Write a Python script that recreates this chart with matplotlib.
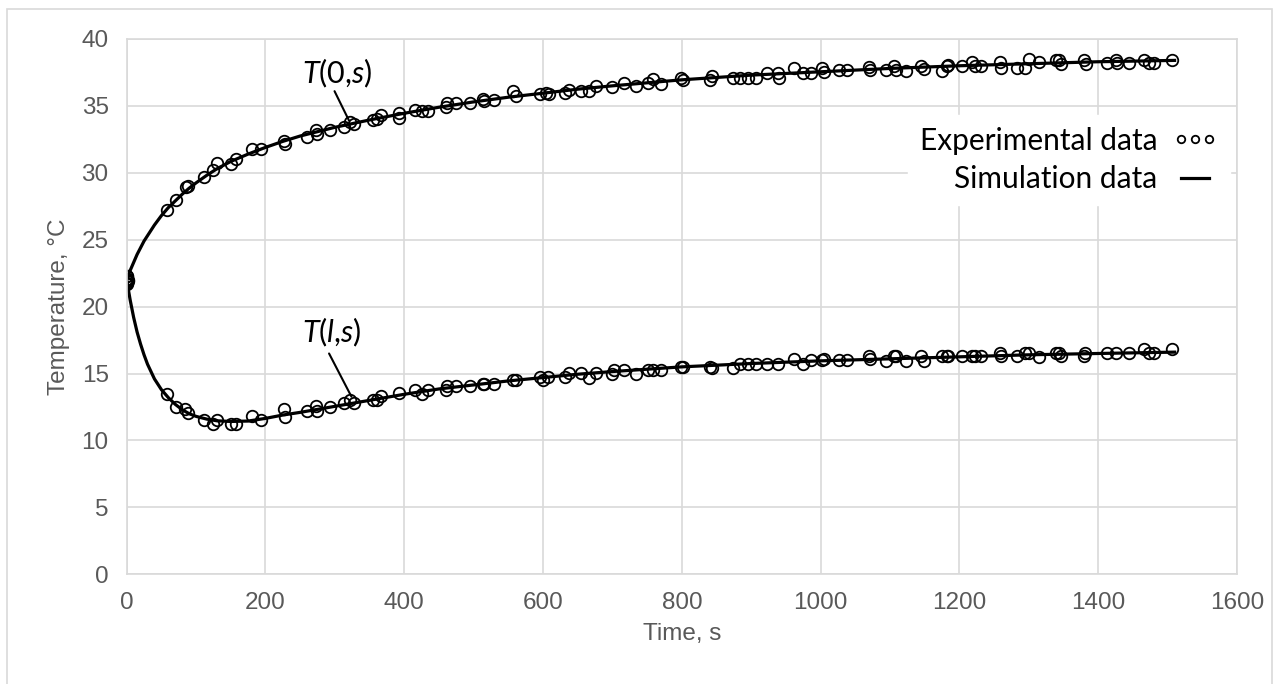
import matplotlib
matplotlib.use("Agg")
import matplotlib.pyplot as plt
from matplotlib.patches import Rectangle

# --- experimental points, T(0,s) ---
t_top = [0, 0, 1, 1, 2, 57.6, 71, 85, 88.5, 111, 124.7, 129.5, 151, 157, 180, 193, 226.5, 228,
         260, 273, 274, 292.6, 313, 322, 327, 355, 360, 367, 392, 393, 415, 425, 434, 460, 462,
         474, 494, 513, 515, 529, 556, 561, 596, 604, 608, 632, 638, 655, 666, 676, 700, 717,
         734, 751, 758, 770, 799, 801, 840, 844, 873, 884, 896, 907, 923, 939, 940, 962, 974,
         986, 1002, 1005, 1027, 1038, 1070, 1071, 1094, 1106, 1108, 1123, 1144, 1149, 1175,
         1182, 1183, 1204, 1218, 1222, 1231, 1259, 1260, 1283, 1295, 1300, 1315, 1339, 1343,
         1346, 1380, 1382, 1413, 1425, 1427, 1444, 1466, 1473, 1480, 1506]
T_top = [21.8, 22.0, 22.1, 22.3, 21.9, 27.2, 27.95, 28.95, 29.05, 29.7, 30.2, 30.75, 30.65, 31.0,
         31.75, 31.75, 32.4, 32.15, 32.65, 33.2, 32.9, 33.2, 33.4, 33.8, 33.65, 33.95, 34.0, 34.3,
         34.1, 34.5, 34.7, 34.65, 34.65, 34.95, 35.2, 35.2, 35.2, 35.5, 35.4, 35.45, 36.1, 35.75,
         35.9, 36.0, 35.9, 35.95, 36.2, 36.15, 36.15, 36.5, 36.4, 36.7, 36.45, 36.7, 37.0, 36.6,
         37.1, 36.9, 36.9, 37.2, 37.1, 37.1, 37.1, 37.1, 37.45, 37.45, 37.1, 37.8, 37.45, 37.45,
         37.8, 37.5, 37.7, 37.7, 37.9, 37.7, 37.7, 37.95, 37.7, 37.6, 37.95, 37.75, 37.6, 37.95,
         38.05, 37.95, 38.25, 37.95, 37.95, 38.25, 37.8, 37.8, 37.8, 38.5, 38.25, 38.4, 38.45,
         38.1, 38.4, 38.1, 38.2, 38.45, 38.2, 38.2, 38.45, 38.2, 38.2, 38.45]

# --- experimental points, T(l,s) ---
t_bot = [0, 0, 1, 1, 2, 57.6, 71, 84, 88.5, 111, 124.7, 129.5, 151, 158, 180, 193, 226.5, 228,
         260, 273, 274, 292.6, 313, 322, 327, 355, 360, 367, 392, 415, 425, 434, 460, 462, 474,
         494, 513, 515, 529, 556, 561, 596, 600, 607, 632, 638, 655, 666, 676, 700, 702, 717,
         734, 751, 758, 770, 799, 801, 840, 844, 873, 884, 896, 907, 923, 939, 962, 974, 986,
         1002, 1005, 1027, 1038, 1070, 1071, 1094, 1106, 1108, 1123, 1144, 1149, 1175, 1182,
         1183, 1204, 1218, 1222, 1231, 1259, 1260, 1283, 1295, 1300, 1315, 1339, 1343, 1346,
         1379, 1381, 1413, 1425, 1444, 1466, 1473, 1480, 1506]
T_bot = [21.7, 21.9, 22.1, 22.3, 22.0, 13.5, 12.5, 12.35, 12.05, 11.5, 11.25, 11.55, 11.25, 11.25,
         11.8, 11.5, 12.35, 11.75, 12.2, 12.55, 12.2, 12.5, 12.8, 13.0, 12.8, 13.0, 13.0, 13.3,
         13.55, 13.8, 13.5, 13.8, 13.75, 14.05, 14.05, 14.05, 14.25, 14.25, 14.25, 14.55, 14.55,
         14.75, 14.5, 14.75, 14.75, 15.05, 15.05, 14.7, 15.05, 15.0, 15.3, 15.3, 15.0, 15.3, 15.3,
         15.25, 15.5, 15.5, 15.5, 15.45, 15.45, 15.75, 15.75, 15.75, 15.75, 15.75, 16.05, 15.75,
         16.0, 16.0, 16.05, 16.0, 16.0, 16.3, 16.05, 15.95, 16.3, 16.3, 15.95, 16.3, 15.95, 16.3,
         16.3, 16.3, 16.3, 16.3, 16.3, 16.3, 16.5, 16.3, 16.3, 16.55, 16.5, 16.2, 16.55, 16.55,
         16.3, 16.3, 16.55, 16.55, 16.55, 16.55, 16.85, 16.55, 16.55, 16.8]

# --- simulation curves ---
t_sim = [0, 5, 10, 15, 20, 25, 30, 40, 50, 60, 70, 80, 90, 100, 115, 130, 150, 175, 200, 225,
         250, 300, 350, 400, 450, 500, 550, 600, 650, 700, 800, 900, 1000, 1100, 1200, 1300,
         1400, 1510]
T_sim_top = [22.0, 22.7, 23.3, 23.9, 24.4, 24.9, 25.3, 26.1, 26.8, 27.4, 27.9, 28.4, 28.85, 29.25,
             29.8, 30.3, 30.85, 31.4, 31.9, 32.35, 32.75, 33.4, 33.95, 34.45, 34.9, 35.3, 35.65,
             35.95, 36.25, 36.5, 36.95, 37.3, 37.55, 37.8, 38.0, 38.15, 38.3, 38.4]
T_sim_bot = [22.0, 20.5, 19.2, 18.1, 17.2, 16.4, 15.7, 14.6, 13.8, 13.2, 12.7, 12.3, 12.0, 11.8,
             11.6, 11.47, 11.42, 11.45, 11.65, 11.9, 12.1, 12.55, 13.0, 13.45, 13.85, 14.15,
             14.45, 14.7, 14.95, 15.15, 15.5, 15.75, 15.95, 16.1, 16.25, 16.4, 16.5, 16.6]

x_ticks = [0, 200, 400, 600, 800, 1000, 1200, 1400, 1600]
y_ticks = [0, 5, 10, 15, 20, 25, 30, 35, 40]

plt.rcParams["mathtext.fontset"] = "custom"
plt.rcParams["mathtext.it"] = "Lato:italic"
plt.rcParams["mathtext.rm"] = "Lato"

GRID = "#d9d9d9"
GREY = "#595959"

fig = plt.figure(figsize=(12.81, 6.84), dpi=100)
fig.patches.append(Rectangle((7 / 1281, -0.05), 1265 / 1281, 1 - 9 / 684 + 0.05,
                             transform=fig.transFigure, fill=False, edgecolor=GRID, lw=1.2))
ax = fig.add_axes([0.0989, 0.1604, 0.8668, 0.7826])

ax.plot(t_top, T_top, "o", ms=8.3, mfc="none", mec="black", mew=1.3, label="Experimental data")
ax.plot(t_bot, T_bot, "o", ms=8.3, mfc="none", mec="black", mew=1.3)
ax.plot(t_sim, T_sim_top, "-", color="black", lw=2.3, label="Simulation data")
ax.plot(t_sim, T_sim_bot, "-", color="black", lw=2.3)

ax.set_xlim(0, 1600); ax.set_ylim(0, 40)
ax.set_xticks(x_ticks); ax.set_yticks(y_ticks)
ax.grid(True, color=GRID, lw=1.2)
ax.set_axisbelow(True)
for s in ax.spines.values():
    s.set_color(GRID); s.set_linewidth(1.2)
ax.tick_params(length=0, labelsize=17.5, labelcolor=GREY, pad=13)
for lab in ax.get_xticklabels() + ax.get_yticklabels():
    lab.set_family("Liberation Sans")
ax.set_xlabel("Time, s", fontsize=17.5, color=GREY, family="Liberation Sans", labelpad=6)
ax.set_ylabel("Temperature, °C", fontsize=17.5, color=GREY, family="Liberation Sans", labelpad=8)

# curve labels with leader lines
ax.text(303.7, 37.4, r"$T$(0,$s$)", fontsize=22, family="Lato", ha="center", va="center")
ax.annotate("", xy=(320.4, 33.9), xytext=(299.5, 36.1),
            arrowprops=dict(arrowstyle="-", color="black", lw=1.5, shrinkA=0, shrinkB=0))
ax.text(295.3, 18.1, r"$T$($l$,$s$)", fontsize=22, family="Lato", ha="center", va="center")
ax.annotate("", xy=(323.9, 13.27), xytext=(291.6, 16.5),
            arrowprops=dict(arrowstyle="-", color="black", lw=1.5, shrinkA=0, shrinkB=0))

leg = ax.legend(loc="upper right", bbox_to_anchor=(0.994, 0.858), markerfirst=False,
                numpoints=3, markerscale=0.65, handlelength=1.55, handletextpad=0.5,
                labelspacing=0.35, borderpad=0.4, borderaxespad=0, frameon=True,
                fancybox=False, framealpha=1, edgecolor="white",
                prop={"family": "Lato", "size": 21.5})
for txt in leg.get_texts():
    txt.set_ha("right")

fig.savefig("out.png", dpi=100)
